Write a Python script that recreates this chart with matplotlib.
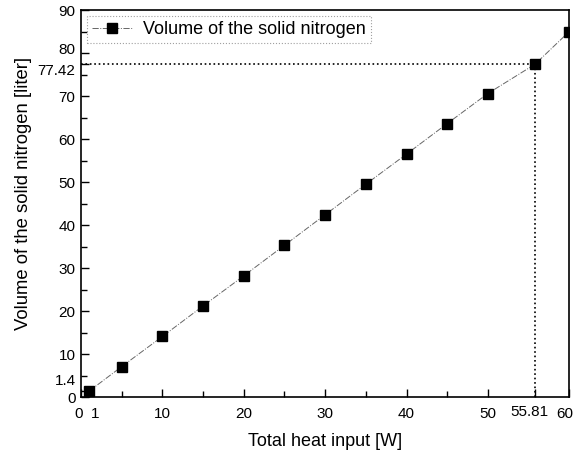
import matplotlib.pyplot as plt
from matplotlib.ticker import FixedLocator
from matplotlib.transforms import ScaledTranslation

plt.rcParams['font.family'] = ['Liberation Sans', 'DejaVu Sans']

heat = [1, 5, 10, 15, 20, 25, 30, 35, 40, 45, 50, 55.81, 60]
volume = [1.4, 7.1, 14.1, 21.2, 28.2, 35.3, 42.4, 49.5, 56.5, 63.6, 70.6, 77.42, 85.0]
mark_x = 55.81
mark_y = 77.42

xticks = [0, 1, 10, 20, 30, 40, 50, 55.81, 60]
xlabels = ['0', '1', '10', '20', '30', '40', '50', '55.81', '60']
yticks = [0, 1.4, 10, 20, 30, 40, 50, 60, 70, 77.42, 80, 90]
ylabels = ['0', '1.4', '10', '20', '30', '40', '50', '60', '70', '77.42', '80', '90']

fig = plt.figure(figsize=(5.88, 4.59), dpi=100)
ax = fig.add_axes([0.138, 0.135, 0.83, 0.843])

ax.plot(heat, volume, color='#666666', linestyle='-.', linewidth=0.7,
        marker='s', markersize=6.5, markerfacecolor='black', markeredgecolor='black',
        label='Volume of the solid nitrogen')
ax.plot([0, mark_x], [mark_y, mark_y], color='black', linestyle=':', linewidth=1.2)
ax.plot([mark_x, mark_x], [0, mark_y], color='black', linestyle=':', linewidth=1.2)

ax.set_xlim(0, 60)
ax.set_ylim(0, 90)
ax.set_xticks(xticks)
ax.set_xticklabels(xlabels)
ax.set_yticks(yticks)
ax.set_yticklabels(ylabels)
ax.xaxis.set_minor_locator(FixedLocator([5, 15, 25, 35, 45]))
ax.yaxis.set_minor_locator(FixedLocator([5, 15, 25, 35, 45, 55, 65, 75, 85]))
ax.tick_params(axis='both', which='major', direction='in', length=6, labelsize=11, width=1)
ax.tick_params(axis='both', which='minor', direction='in', length=4, width=1)
ax.tick_params(axis='x', pad=7)
ax.tick_params(axis='y', pad=4)
for s in ax.spines.values():
    s.set_linewidth(1.2)

# nudge the crowded labels apart the way the original does
def nudge(label, dx, dy):
    label.set_transform(label.get_transform() + ScaledTranslation(dx / 72, dy / 72, fig.dpi_scale_trans))

xl = ax.get_xticklabels()
nudge(xl[0], -2, 0)
nudge(xl[1], 4, 0)
nudge(xl[7], -4, 1)
nudge(xl[8], -3, 0)
yl = ax.get_yticklabels()
nudge(yl[1], 0, 8)
nudge(yl[9], 0, -4)
nudge(yl[10], 0, 3)

ax.set_xlabel('Total heat input [W]', fontsize=13, labelpad=9)
ax.set_ylabel('Volume of the solid nitrogen [liter]', fontsize=13.3)
ax.yaxis.set_label_coords(-0.1, 0.527)

lg = ax.legend(loc='upper left', fontsize=13, frameon=True, fancybox=False,
               handlelength=2.2, handletextpad=0.6, borderaxespad=0.3,
               borderpad=0.3)
lg.get_frame().set_edgecolor('#888888')
lg.get_frame().set_linestyle(':')
lg.get_frame().set_linewidth(0.8)

fig.savefig('out.png', dpi=100)
